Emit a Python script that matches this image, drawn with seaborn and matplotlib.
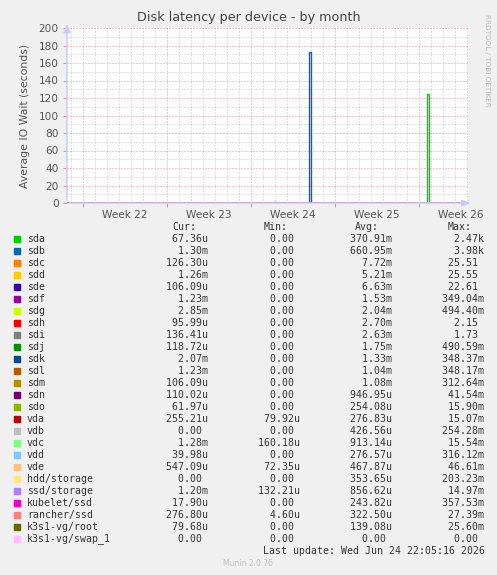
import matplotlib
matplotlib.use("Agg")
import matplotlib.pyplot as plt
import seaborn as sns
import pandas as pd

# ---- data ----
devices = ["sda", "sdb", "sdc", "sdd", "sde", "sdf", "sdg", "sdh", "sdi", "sdj",
           "sdk", "sdl", "sdm", "sdn", "sdo", "vda", "vdb", "vdc", "vdd", "vde",
           "hdd/storage", "ssd/storage", "kubelet/ssd", "rancher/ssd",
           "k3s1-vg/root", "k3s1-vg/swap_1"]
colors = ["#00CC00", "#0066B3", "#FF8000", "#FFCC00", "#330099", "#990099",
          "#CCFF00", "#FF0000", "#808080", "#008F00", "#00487D", "#B35A00",
          "#B38F00", "#6B006B", "#8FB300", "#B30000", "#BEBEBE", "#80FF80",
          "#80C9FF", "#FFC080", "#FFE680", "#AA80FF", "#EE00CC", "#FF8080",
          "#666600", "#FFBFFF"]
cur = ["67.36u", "1.30m", "126.30u", "1.26m", "106.09u", "1.23m", "2.85m", "95.99u",
       "136.41u", "118.72u", "2.07m", "1.23m", "106.09u", "110.02u", "61.97u",
       "255.21u", "0.00", "1.28m", "39.98u", "547.09u", "0.00", "1.20m", "17.90u",
       "276.80u", "79.68u", "0.00"]
mins = ["0.00", "0.00", "0.00", "0.00", "0.00", "0.00", "0.00", "0.00", "0.00",
        "0.00", "0.00", "0.00", "0.00", "0.00", "0.00", "79.92u", "0.00", "160.18u",
        "0.00", "72.35u", "0.00", "132.21u", "0.00", "4.60u", "0.00", "0.00"]
avgs = ["370.91m", "660.95m", "7.72m", "5.21m", "6.63m", "1.53m", "2.04m", "2.70m",
        "2.63m", "1.75m", "1.33m", "1.04m", "1.08m", "946.95u", "254.08u", "276.83u",
        "426.56u", "913.14u", "276.57u", "467.87u", "353.65u", "856.62u", "243.82u",
        "322.50u", "139.08u", "0.00"]
maxs = ["2.47k", "3.98k", "25.51", "25.55", "22.61", "349.04m", "494.40m", "2.15",
        "1.73", "490.59m", "348.37m", "348.17m", "312.64m", "41.54m", "15.90m",
        "15.07m", "254.28m", "15.54m", "316.12m", "46.61m", "203.23m", "14.97m",
        "357.53m", "27.39m", "25.60m", "0.00"]

# time axis in days from the start of week 22
day_range = [-1.33, 32.1]
week_starts = [0, 7, 14, 21, 28]
week_labels = ["Week 22", "Week 23", "Week 24", "Week 25", "Week 26"]

# visible peaks (device, start day, end day, seconds)
peak_devices = ["sdd", "sde", "sdb", "sdc", "vdd", "sda"]
peak_start = [8.55, 15.95, 18.83, 22.55, 28.35, 28.66]
peak_end = [8.72, 16.08, 19.0, 22.72, 28.48, 28.83]
peak_value = [1.2, 1.0, 173, 1.0, 1.0, 125]

rows = []
for dev in devices:
    rows.append((dev, day_range[0], 0.0))
    for d, s, e, v in zip(peak_devices, peak_start, peak_end, peak_value):
        if d == dev:
            rows += [(dev, s, v), (dev, e, 0.0)]
    rows.append((dev, day_range[1], 0.0))
df = pd.DataFrame(rows, columns=["device", "day", "wait"])

# ---- figure ----
BG = "#F0F0F0"
GRID_MIN = "#C4C4C4"
GRID_MAJ = "#EE9090"
AXIS = "#C8C8FF"
TXT = "#555555"
DOT = (0, (1, 2))
LW = 0.72  # ~1 px

fig = plt.figure(figsize=(4.97, 5.75), dpi=100, facecolor=BG)
ax = fig.add_axes([67 / 497, 1 - 203 / 575, 401 / 497, 175 / 575])
ax.set_facecolor("white")

sns.lineplot(data=df, x="day", y="wait", hue="device", palette=dict(zip(devices, colors)),
             hue_order=devices, estimator=None, sort=False, legend=False,
             linewidth=1.0, drawstyle="steps-post", ax=ax)

ax.set_xlim(day_range)
ax.set_ylim(0, 200)

# grid
for d in range(-1, 33):
    if d not in week_starts:
        ax.axvline(d, color=GRID_MIN, lw=LW, ls=DOT, zorder=0)
for d in week_starts:
    ax.axvline(d, color=GRID_MAJ, lw=LW, ls=DOT, zorder=0)
for y in range(10, 201, 20):
    ax.axhline(y, color=GRID_MIN, lw=LW, ls=DOT, zorder=0)
for y in range(20, 201, 20):
    ax.axhline(y, color=GRID_MAJ, lw=LW, ls=DOT, zorder=0)

for s in ax.spines.values():
    s.set_visible(False)
ax.set_yticks(range(0, 201, 20))
ax.set_xticks([w + 3.5 for w in week_starts])
ax.set_xticks(week_starts, minor=True)
ax.set_xticklabels(week_labels)
ax.tick_params(axis="y", length=3, width=LW, color=GRID_MAJ, labelsize=7.6,
               labelcolor=TXT, pad=3)
ax.tick_params(axis="x", which="major", length=0, labelsize=7.6, labelcolor=TXT, pad=5)
ax.tick_params(axis="x", which="minor", length=3, width=LW, color=GRID_MAJ)
ax.set_xlabel("")
ax.set_ylabel("Average IO Wait (seconds)", fontsize=7.8, color=TXT, labelpad=6)

# axes with arrows
ax.annotate("", xy=(1.013, 0), xytext=(0, 0), xycoords="axes fraction",
            arrowprops=dict(arrowstyle="-|>,head_width=0.2,head_length=0.5",
                            color=AXIS, lw=1), annotation_clip=False)
ax.annotate("", xy=(0, 1.04), xytext=(0, 0), xycoords="axes fraction",
            arrowprops=dict(arrowstyle="-|>,head_width=0.2,head_length=0.5",
                            color=AXIS, lw=1), annotation_clip=False)

fig.text(0.5, 1 - 17 / 575, "Disk latency per device - by month", ha="center",
         va="center", fontsize=9.2, color="#444444")
fig.text(487 / 497, 1 - 60 / 575, "RRDTOOL / TOBI OETIKER", rotation=270,
         ha="center", va="center", fontsize=5.2, color="#BBBBBB")

# ---- legend table ----
mono = "DejaVu Sans Mono"
fs = 7.1
cw = 0.602 * fs * 100 / 72  # char width in px


def px(x, y):
    return x / 497, 1 - y / 575


def col(v, width=8):
    return f"{v if not v[-1].isdigit() else v + ' ':>{width}}"


for lbl, xe in zip(["Cur:", "Min:", "Avg:", "Max:"], [196, 287, 379, 471]):
    fig.text(*px(xe - 4 * cw, 227), lbl, fontsize=fs, family=mono, color="#333333",
             va="center", ha="left")

for i, dev in enumerate(devices):
    y = 239 + 12 * i
    fig.patches.append(plt.Rectangle(px(14, y + 3), 6 / 497, 6 / 575, color=colors[i],
                                     transform=fig.transFigure, figure=fig))
    fig.text(*px(27, y), dev, fontsize=fs, family=mono, color="#333333", va="center")
    for vals, xe in zip([cur, mins, avgs, maxs], [207, 299, 391, 483]):
        fig.text(*px(xe - 8 * cw, y), col(vals[i]), fontsize=fs, family=mono,
                 color="#333333", va="center", ha="left")

fig.text(*px(483 - 37 * cw, 551), "Last update: Wed Jun 24 22:05:16 2026", fontsize=fs,
         family=mono, color="#333333", va="center", ha="left")
fig.text(*px(248, 564), "Munin 2.0.76", fontsize=5.5, color="#C0C0C0", ha="center",
         va="center")

fig.savefig("out.png", dpi=100, facecolor=BG)
